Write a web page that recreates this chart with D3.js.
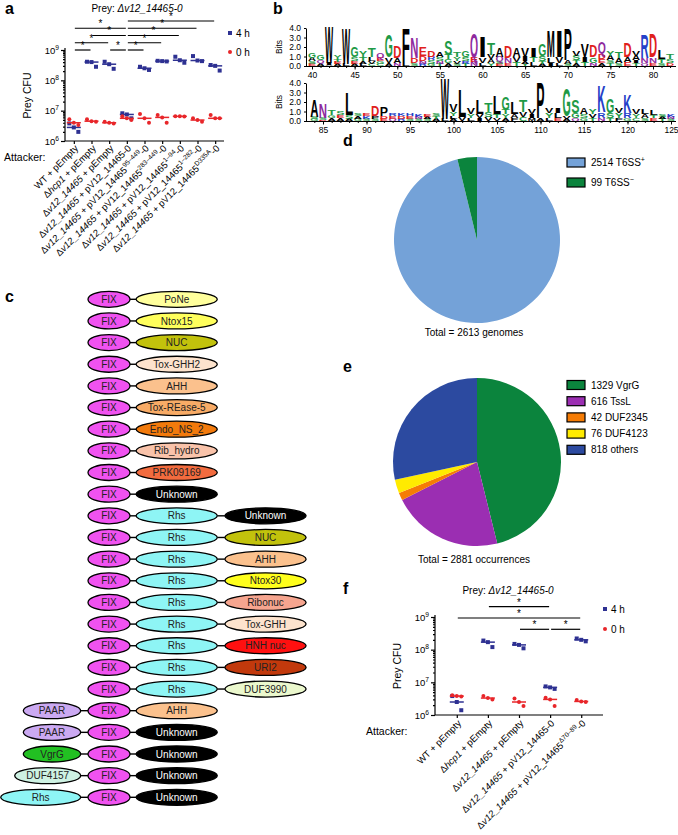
<!DOCTYPE html>
<html><head><meta charset="utf-8">
<script src="https://cdn.jsdelivr.net/npm/d3@7"></script>
<style>body{margin:0;background:#fff}svg{display:block;font-family:"Liberation Sans",Arial,Helvetica,sans-serif}</style>
</head><body><svg id="fig" width="678" height="835"></svg>
<script>
// ================= DATA =================
// Panel a
const aLabels = [
  [["WT + pEmpty","n"]],
  [["Δ","n"],["hcp1","i"],[" + pEmpty","n"]],
  [["Δ","n"],["v12_14465","i"],[" + pEmpty","n"]],
  [["Δ","n"],["v12_14465","i"],[" + pV12_14465-0","n"]],
  [["Δ","n"],["v12_14465","i"],[" + pV12_14465","n"],["95–449","s"],["-0","n"]],
  [["Δ","n"],["v12_14465","i"],[" + pV12_14465","n"],["283–449","s"],["-0","n"]],
  [["Δ","n"],["v12_14465","i"],[" + pV12_14465","n"],["1–94","s"],["-0","n"]],
  [["Δ","n"],["v12_14465","i"],[" + pV12_14465","n"],["1–282","s"],["-0","n"]],
  [["Δ","n"],["v12_14465","i"],[" + pV12_14465","n"],["D335A","s"],["-0","n"]]
];
const a4h = [[3.8e6,2.8e6,2.0e6],[4.1e8,4.0e8,2.8e8],[4.1e8,3.4e8,2.4e8],[8.2e6,7.5e6,5.6e6],
  [2.8e8,2.5e8,2.2e8],[4.4e8,4.3e8,4.2e8],[6.0e8,4.6e8,3.8e8],[6.3e8,4.5e8,4.3e8],[3.2e8,3.0e8,2.1e8]];
const a0h = [[5.2e6,4.0e6,3.4e6],[5.2e6,4.5e6,4.3e6],[4.3e6,4.0e6,3.8e6],[6.6e6,5.6e6,4.9e6],
  [7.8e6,5.6e6,4.0e6],[7.2e6,6.0e6,4.0e6],[6.6e6,6.5e6,6.4e6],[5.6e6,4.9e6,4.3e6],[7.2e6,5.6e6,5.6e6]];
const aSig = [[3,8,0],[0,3,1],[3,7,1],[1,3,2],[3,6,2],[0,2,3],[3,5,3],[0,1,4],[2,3,4],[3,4,4]]; // [from,to,level]

// Panel f
const fLabels = [
  [["WT + pEmpty","n"]],
  [["Δ","n"],["hcp1","i"],[" + pEmpty","n"]],
  [["Δ","n"],["v12_14465","i"],[" + pEmpty","n"]],
  [["Δ","n"],["v12_14465","i"],[" + pV12_14465-0","n"]],
  [["Δ","n"],["v12_14465","i"],[" + pV12_14465","n"],["Δ70–89","s"],["-0","n"]]
];
const f4h = [[3.8e6,2.5e6,1.4e6],[1.9e8,1.7e8,1.2e8],[1.5e8,1.4e8,1.1e8],[7.5e6,7.0e6,6.3e6],[2.2e8,2.0e8,1.8e8]];
const f0h = [[4.0e6,3.8e6,3.7e6],[3.8e6,3.3e6,3.0e6],[3.2e6,2.5e6,1.9e6],[3.4e6,3.0e6,1.9e6],[2.9e6,2.6e6,2.5e6]];
const fSig = [[1,3,0],[0,4,1],[2,3,2],[3,4,2]];

const yTickValues = [1e6,1e7,1e8,1e9];
const yTickExp = ["6","7","8","9"];

// Panel b (sequence logo): [position, [[residue, bits], ...] top -> bottom]
const logoTop = [
 [40,[["G",0.55],["A",0.35],["S",0.3],["E",0.2]]],
 [41,[["G",0.6],["Q",0.3],["A",0.3]]],
 [42,[["W",3.9],["I",0.2],["A",0.15]]],
 [43,[["Y",0.35],["T",0.3],["E",0.25],["A",0.2]]],
 [44,[["W",3.8],["L",0.2]]],
 [45,[["G",1.1],["S",0.35],["E",0.3],["A",0.25]]],
 [46,[["Y",0.7],["T",0.35],["A",0.3],["L",0.25]]],
 [47,[["T",0.9],["L",0.45],["V",0.3],["C",0.2]]],
 [48,[["Q",0.5],["E",0.35],["G",0.3],["C",0.2]]],
 [49,[["G",2.4],["V",0.6],["A",0.3]]],
 [50,[["D",1.3],["A",0.5],["N",0.3]]],
 [51,[["F",3.6],["L",0.4]]],
 [52,[["N",2.3],["D",0.5],["S",0.3]]],
 [53,[["E",0.9],["D",0.5],["N",0.3],["R",0.25]]],
 [54,[["D",0.7],["R",0.4],["S",0.35],["G",0.25]]],
 [55,[["A",0.6],["S",0.4],["N",0.3],["T",0.25]]],
 [56,[["S",1.5],["T",0.5],["G",0.4],["A",0.3]]],
 [57,[["T",0.6],["Y",0.35],["V",0.3],["S",0.25]]],
 [58,[["G",0.7],["S",0.4],["R",0.3],["T",0.2]]],
 [59,[["Q",2.5],["E",0.5],["N",0.4]]],
 [60,[["I",2.3],["V",0.6],["L",0.3]]],
 [61,[["T",1.2],["V",0.5],["A",0.4],["Y",0.3]]],
 [62,[["A",0.9],["Q",0.5],["S",0.3],["E",0.2]]],
 [63,[["D",1.2],["N",0.5],["E",0.3]]],
 [64,[["A",1.0],["V",0.5],["T",0.4]]],
 [65,[["V",0.9],["I",0.5],["A",0.3],["Y",0.2]]],
 [66,[["I",0.9],["T",0.5],["L",0.4]]],
 [67,[["G",1.3],["S",0.6],["T",0.3],["A",0.2]]],
 [68,[["M",2.8],["L",0.6],["I",0.3]]],
 [69,[["I",2.8],["V",0.7],["L",0.3]]],
 [70,[["P",3.4],["A",0.4],["S",0.2]]],
 [71,[["V",0.6],["S",0.5],["T",0.3],["A",0.3]]],
 [72,[["V",1.4],["I",0.6],["T",0.4]]],
 [73,[["D",1.3],["G",0.6],["N",0.3]]],
 [74,[["Q",1.3],["D",0.6],["E",0.4],["A",0.3]]],
 [75,[["Y",0.6],["A",0.5],["S",0.3],["T",0.3]]],
 [76,[["T",0.7],["A",0.5],["S",0.3]]],
 [77,[["D",1.6],["A",0.6],["E",0.4]]],
 [78,[["V",0.6],["A",0.5],["I",0.3],["T",0.3]]],
 [79,[["R",2.5],["N",0.5],["Q",0.3]]],
 [80,[["D",2.5],["N",0.6],["E",0.3]]],
 [81,[["L",1.0],["T",0.4],["S",0.3]]],
 [82,[["T",0.5],["S",0.4],["D",0.3]]]
];
const logoBottom = [
 [84,[["A",1.8],["S",0.2],["G",0.2]]],
 [85,[["N",1.6],["S",0.2],["D",0.15]]],
 [86,[["T",0.5],["G",0.3],["A",0.3]]],
 [87,[["S",0.4],["E",0.3],["A",0.3]]],
 [88,[["L",2.4],["S",0.4],["A",0.2]]],
 [89,[["S",0.3],["A",0.3],["G",0.2]]],
 [90,[["E",0.3],["K",0.3],["S",0.2]]],
 [91,[["D",1.1],["P",0.3],["S",0.2]]],
 [92,[["P",1.0],["D",0.3],["E",0.2]]],
 [93,[["R",0.3],["E",0.3],["Q",0.2]]],
 [94,[["K",0.3],["D",0.3],["R",0.2]]],
 [95,[["H",0.3],["E",0.3],["S",0.2]]],
 [96,[["K",0.3],["N",0.2],["S",0.2]]],
 [97,[["E",0.2],["A",0.2],["S",0.2]]],
 [98,[["S",0.3],["T",0.3],["A",0.2]]],
 [99,[["W",4.3],["L",0.2]]],
 [100,[["V",0.8],["Y",0.4],["L",0.3],["A",0.2]]],
 [101,[["L",3.0],["V",0.4]]],
 [102,[["V",0.7],["Y",0.4],["L",0.3]]],
 [103,[["L",1.5],["V",0.4],["I",0.3]]],
 [104,[["T",1.0],["S",0.5],["V",0.4]]],
 [105,[["L",1.9],["T",0.4],["V",0.3]]],
 [106,[["G",1.4],["T",0.5],["Y",0.4],["A",0.3]]],
 [107,[["L",1.3],["A",0.4],["F",0.3]]],
 [108,[["T",1.2],["V",0.6],["C",0.4]]],
 [109,[["V",0.5],["I",0.4],["M",0.3]]],
 [110,[["P",3.8],["A",0.3]]],
 [111,[["V",0.6],["Y",0.5],["L",0.3]]],
 [112,[["I",0.6],["L",0.5],["E",0.3]]],
 [113,[["G",3.0],["V",0.3],["A",0.2]]],
 [114,[["S",1.4],["G",0.5],["Q",0.3]]],
 [115,[["A",0.7],["S",0.4],["G",0.3]]],
 [116,[["Y",0.6],["V",0.4],["T",0.3]]],
 [117,[["K",2.8],["R",0.6],["N",0.3]]],
 [118,[["G",1.6],["S",0.5],["T",0.3]]],
 [119,[["V",0.6],["Y",0.5],["F",0.3]]],
 [120,[["K",1.9],["R",0.5],["G",0.3]]],
 [121,[["V",0.6],["Y",0.4],["C",0.3]]],
 [122,[["L",0.6],["A",0.4],["S",0.3]]],
 [123,[["L",0.6],["T",0.3],["E",0.3]]],
 [124,[["S",0.3],["A",0.2],["T",0.2]]],
 [125,[["K",0.3],["N",0.2],["S",0.2]]]
];
const bitTicks = [0,1,2,3,4];

// Panel c: [N-terminal partner, FIX, second domain, third domain]
const cRows = [
 ["","FIX","PoNe",""],["","FIX","Ntox15",""],["","FIX","NUC",""],["","FIX","Tox-GHH2",""],
 ["","FIX","AHH",""],["","FIX","Tox-REase-5",""],["","FIX","Endo_NS_2",""],["","FIX","Rib_hydro",""],
 ["","FIX","PRK09169",""],["","FIX","Unknown",""],
 ["","FIX","Rhs","Unknown"],["","FIX","Rhs","NUC"],["","FIX","Rhs","AHH"],["","FIX","Rhs","Ntox30"],
 ["","FIX","Rhs","Ribonuc"],["","FIX","Rhs","Tox-GHH"],["","FIX","Rhs","HNH nuc"],["","FIX","Rhs","URI2"],
 ["","FIX","Rhs","DUF3990"],
 ["PAAR","FIX","AHH",""],["PAAR","FIX","Unknown",""],["VgrG","FIX","Unknown",""],
 ["DUF4157","FIX","Unknown",""],["Rhs","FIX","Unknown",""]
];
const cColors = {FIX:"#f052f0",PoNe:"#ffff9c",Ntox15:"#ffff5c",NUC:"#c2c20c","Tox-GHH2":"#fde3cd",
  AHH:"#fbc18d","Tox-REase-5":"#f8ab66",Endo_NS_2:"#f27a0c",Rib_hydro:"#f9c3aa",PRK09169:"#f26b3e",
  Unknown:"#000000",Rhs:"#8ef5f5",Ntox30:"#ffff1c",Ribonuc:"#f6a58f","Tox-GHH":"#fde3cd",
  "HNH nuc":"#ff1010",URI2:"#c2390c",DUF3990:"#ebf8cd",PAAR:"#cba9f2",VgrG:"#22c022",DUF4157:"#cef2e3"};

// Panel d
const dValues = [2514, 99];
const dNames = ["T6SS","T6SS"];
const dSup = ["+","−"];
const dColors = ["#74a2d8","#0b843d"];
// Panel e
const eValues = [1329, 616, 42, 76, 818];
const eNames = ["VgrG","TssL","DUF2345","DUF4123","others"];
const eColors = ["#0b843d","#9b2eb2","#f57c05","#ffeb00","#2c4aa0"];

// ================= DRAWING =================
const svg = d3.select("#fig");
const BLUE = "#2e3192", RED = "#e8262a";

function rich(sel, segs, fs) {
  let sup = false;
  segs.forEach(([t, st]) => {
    const ts = sel.append("tspan").text(t);
    if (st === "i") ts.attr("font-style", "italic");
    if (st === "s") { ts.attr("font-size", fs * 0.7).attr("dy", -fs * 0.42); sup = true; }
    else if (sup) { ts.attr("dy", fs * 0.42); sup = false; }
  });
}
function panelLabel(t, x, y) {
  svg.append("text").attr("x", x).attr("y", y).attr("font-size", 16).attr("font-weight", "bold").text(t);
}

function dotPanel(o) {
  const g = svg.append("g");
  const n = o.labels.length;
  const x = d3.scalePoint().domain(d3.range(n)).range([o.x0, o.x1]).padding(o.pad);
  const y = d3.scaleLog().domain([1e6, 1e9]).range([o.yb, o.yt]);
  const minors = [];
  for (let e = 6; e < 9; e++) for (let m = 2; m < 10; m++) minors.push(m * Math.pow(10, e));
  const ax1 = g.append("g").attr("transform", `translate(${o.x0},0)`)
    .call(d3.axisLeft(y).tickValues(minors).tickSize(2).tickFormat("").tickSizeOuter(0));
  ax1.select(".domain").remove();
  const ax2 = g.append("g").attr("transform", `translate(${o.x0},0)`)
    .call(d3.axisLeft(y).tickValues(yTickValues).tickSize(4).tickFormat("").tickSizeOuter(0));
  g.selectAll(".tick line, .domain").attr("stroke-width", 1.2);
  ax2.select(".domain").attr("d", `M0,${o.yb}V${o.yt - 2}`);
  yTickValues.forEach((v, i) => {
    const t = g.append("text").attr("x", o.x0 - 6).attr("y", y(v) + 3.5).attr("text-anchor", "end").attr("font-size", 9.5);
    rich(t, [["10", "n"], [yTickExp[i], "s"]], 9.5);
  });
  const xa = g.append("g").attr("transform", `translate(0,${o.yb})`)
    .call(d3.axisBottom(x).tickSize(3).tickFormat("").tickSizeOuter(0));
  xa.select(".domain").attr("d", `M${o.x0},0H${o.x1}`).attr("stroke-width", 1.2);
  xa.selectAll(".tick line").attr("stroke-width", 1.2);
  // x labels
  o.labels.forEach((segs, i) => {
    const t = g.append("text").attr("text-anchor", "end").attr("font-size", 9.5)
      .attr("transform", `translate(${x(i) + o.lx},${o.yb + o.ly}) rotate(-45)`);
    rich(t, segs, 9.5);
  });
  // data: 4 h (blue squares)
  o.v4.forEach((vals, i) => {
    vals.forEach((v, j) => {
      g.append("rect").attr("x", x(i) + (j - 1) * 4.5 - 2).attr("y", y(v) - 2).attr("width", 4).attr("height", 4).attr("fill", BLUE);
    });
    const m = d3.median(vals);
    g.append("line").attr("x1", x(i) - 7).attr("x2", x(i) + 7).attr("y1", y(m)).attr("y2", y(m)).attr("stroke", BLUE).attr("stroke-width", 1.5);
  });
  o.v0.forEach((vals, i) => {
    vals.forEach((v, j) => {
      g.append("circle").attr("cx", x(i) + (j - 1) * 4.5).attr("cy", y(v)).attr("r", 2).attr("fill", RED);
    });
    const m = d3.median(vals);
    g.append("line").attr("x1", x(i) - 7).attr("x2", x(i) + 7).attr("y1", y(m)).attr("y2", y(m)).attr("stroke", RED).attr("stroke-width", 1.5);
  });
  // significance bars
  const ly = d3.scaleLinear().domain(o.sigDom).range(o.sigRange);
  o.sig.forEach(([a, b, l]) => {
    g.append("line").attr("x1", x(a) + 1).attr("x2", x(b) - 1).attr("y1", ly(l)).attr("y2", ly(l)).attr("stroke", "#000").attr("stroke-width", 1.2);
    g.append("text").attr("x", (x(a) + x(b)) / 2).attr("y", ly(l) - 1.2).attr("text-anchor", "middle").attr("font-size", 10).attr("fill", "#000").text("*");
  });
  // title
  const tt = g.append("text").attr("x", o.titleX).attr("y", o.titleY).attr("text-anchor", "middle").attr("font-size", 10);
  rich(tt, [["Prey: ", "n"], ["Δv12_14465-0", "i"]], 10);
  // legend
  g.append("rect").attr("x", o.legX - 2).attr("y", o.legY - 2).attr("width", 4).attr("height", 4).attr("fill", BLUE);
  g.append("text").attr("x", o.legX + 6).attr("y", o.legY + 3.5).attr("font-size", 10).text("4 h");
  g.append("circle").attr("cx", o.legX).attr("cy", o.legY + o.legGap).attr("r", 2).attr("fill", RED);
  g.append("text").attr("x", o.legX + 6).attr("y", o.legY + o.legGap + 3.5).attr("font-size", 10).text("0 h");
  // axis titles
  g.append("text").attr("transform", `translate(${o.x0 - 34},${(o.yb + o.yt) / 2}) rotate(-90)`).attr("text-anchor", "middle").attr("font-size", 10.5).text("Prey CFU");
  g.append("text").attr("x", o.attX).attr("y", o.attY).attr("font-size", 10.5).text("Attacker:");
}

dotPanel({labels: aLabels, v4: a4h, v0: a0h, sig: aSig, x0: 65, x1: 224, pad: 0.5, yb: 141, yt: 50,
  lx: 5, ly: 8, sigDom: [0, 4], sigRange: [21, 50], titleX: 137, titleY: 12, legX: 230, legY: 33, legGap: 19,
  attX: 4, attY: 161});
dotPanel({labels: fLabels, v4: f4h, v0: f0h, sig: fSig, x0: 435, x1: 603, pad: 0.7, yb: 715, yt: 617,
  lx: 5, ly: 9, sigDom: [0, 2], sigRange: [606.7, 629.3], titleX: 508, titleY: 594, legX: 605, legY: 609, legGap: 20,
  attX: 366, attY: 735});

// ---------- Panel b: sequence logo ----------
const resColor = r => "GSTYC".includes(r) ? "#1e9a46" : "NQ".includes(r) ? "#8e2a9e" : "KRH".includes(r) ? "#2540c8" : "DE".includes(r) ? "#e0201c" : "#000";
const meas = svg.append("text").attr("font-size", 100).attr("font-weight", "bold").attr("x", -999).attr("y", -999);
const advCache = {};
function adv(ch) {
  if (!(ch in advCache)) { meas.text(ch); advCache[ch] = meas.node().getComputedTextLength(); }
  return advCache[ch];
}
function drawLogo(data, o) {
  const g = svg.append("g");
  const x = d3.scaleLinear().domain(o.pd).range(o.xr);
  const step = x(o.pd[0] + 1) - x(o.pd[0]);
  const y = d3.scaleLinear().domain([0, 4]).range([o.yb, o.yb - 4 * o.ppb]);
  data.forEach(([p, stack]) => {
    let yb = o.yb;
    for (let k = stack.length - 1; k >= 0; k--) {
      const [ch, bits] = stack[k];
      const h = y(0) - y(bits);
      const w = step * 0.95;
      g.append("text").attr("font-size", 100).attr("font-weight", "bold").attr("fill", resColor(ch))
        .attr("transform", `translate(${x(p) - w / 2},${yb}) scale(${w / adv(ch)},${h / 72})`).text(ch);
      yb -= h;
    }
  });
  const ya = g.append("g").attr("transform", `translate(${o.axX},0)`)
    .call(d3.axisLeft(y).tickValues(bitTicks).tickFormat(d3.format(".1f")).tickSize(2).tickSizeOuter(0));
  ya.selectAll("text").attr("font-size", 8.5).attr("font-family", null);
  ya.select(".domain").attr("stroke-width", 1);
  g.append("line").attr("x1", o.axX).attr("x2", o.xEnd).attr("y1", o.yb + 0.5).attr("y2", o.yb + 0.5).attr("stroke", "#000").attr("stroke-width", 1);
  const allPos = data.map(d => d[0]);
  const xm = g.append("g").attr("transform", `translate(0,${o.yb + 0.5})`)
    .call(d3.axisBottom(x).tickValues(allPos).tickSize(1.5).tickFormat(""));
  xm.select(".domain").remove();
  const xM = g.append("g").attr("transform", `translate(0,${o.yb + 0.5})`)
    .call(d3.axisBottom(x).tickValues(allPos.filter(p => p % 5 === 0)).tickSize(3).tickPadding(2));
  xM.select(".domain").remove();
  xM.selectAll("text").attr("font-size", 8.5).attr("font-family", null);
  g.append("text").attr("transform", `translate(${o.axX - 24},${o.yb - 2 * o.ppb}) rotate(-90)`).attr("text-anchor", "middle").attr("font-size", 8.5).text("Bits");
}
drawLogo(logoTop, {pd: [40, 80], xr: [312, 653], yb: 66, ppb: 9.5, axX: 306, xEnd: 676});
drawLogo(logoBottom, {pd: [85, 125], xr: [323, 671], yb: 121, ppb: 9.5, axX: 306, xEnd: 676});

// ---------- Panel c: domain architectures ----------
const cy = d3.scalePoint().domain(d3.range(cRows.length)).range([299.3, 797.3]);
const colCx = [null, 109, 176.7, 265.5];
const colRx = [null, 21, 40.6, 40.6];
const leftRx = {PAAR: 28.7, VgrG: 28.7, DUF4157: 33, Rhs: 40};
const leftRight = 80.7, ry = 8;
const cg = svg.append("g");
cRows.forEach((row, i) => {
  const yy = cy(i);
  const boxes = [];
  row.forEach((name, c) => {
    if (!name) return;
    let cx, rx;
    if (c === 0) { rx = leftRx[name]; cx = leftRight - rx; } else { cx = colCx[c]; rx = colRx[c]; }
    boxes.push({name, cx, rx});
  });
  for (let k = 0; k < boxes.length - 1; k++) {
    cg.append("line").attr("x1", boxes[k].cx + boxes[k].rx).attr("x2", boxes[k + 1].cx - boxes[k + 1].rx)
      .attr("y1", yy).attr("y2", yy).attr("stroke", "#000").attr("stroke-width", 1.4);
  }
  boxes.forEach(b => {
    cg.append("ellipse").attr("cx", b.cx).attr("cy", yy).attr("rx", b.rx).attr("ry", ry)
      .attr("fill", cColors[b.name]).attr("stroke", "#000").attr("stroke-width", 1.3);
    cg.append("text").attr("x", b.cx).attr("y", yy + 3.6).attr("text-anchor", "middle").attr("font-size", 10)
      .attr("fill", b.name === "Unknown" ? "#fff" : "#222").text(b.name);
  });
});

// ---------- Panels d & e: pies ----------
function pie(values, colors, cx, cy0, r) {
  const arcs = d3.pie().sort(null).value(d => d)(values);
  const arc = d3.arc().innerRadius(0).outerRadius(r);
  svg.append("g").attr("transform", `translate(${cx},${cy0})`).selectAll("path").data(arcs).join("path")
    .attr("d", arc).attr("fill", (d, i) => colors[i]);
}
pie(dValues, dColors, 477, 240, 83);
dValues.forEach((v, i) => {
  const yy = 162.5 + i * 20;
  svg.append("rect").attr("x", 567).attr("y", yy - 4.5).attr("width", 18).attr("height", 9).attr("fill", dColors[i]).attr("stroke", "#000").attr("stroke-width", 1.2);
  const t = svg.append("text").attr("x", 591).attr("y", yy + 3.6).attr("font-size", 10);
  rich(t, [[`${v} ${dNames[i]}`, "n"], [dSup[i], "s"]], 10);
});
svg.append("text").attr("x", 474).attr("y", 335.5).attr("text-anchor", "middle").attr("font-size", 10)
  .text(`Total = ${d3.sum(dValues)} genomes`);

pie(eValues, eColors, 477, 462, 84);
eValues.forEach((v, i) => {
  const yy = 385 + i * 16.2;
  svg.append("rect").attr("x", 567).attr("y", yy - 4.5).attr("width", 18).attr("height", 9).attr("fill", eColors[i]).attr("stroke", "#000").attr("stroke-width", 1.2);
  svg.append("text").attr("x", 591).attr("y", yy + 3.6).attr("font-size", 10).text(`${v} ${eNames[i]}`);
});
svg.append("text").attr("x", 474).attr("y", 562.5).attr("text-anchor", "middle").attr("font-size", 10)
  .text(`Total = ${d3.sum(eValues)} occurrences`);

// panel letters
panelLabel("a", 5, 14);
panelLabel("b", 273, 14);
panelLabel("c", 5, 302);
panelLabel("d", 343, 146);
panelLabel("e", 343, 372);
panelLabel("f", 343, 594);
meas.remove();
</script></body></html>
